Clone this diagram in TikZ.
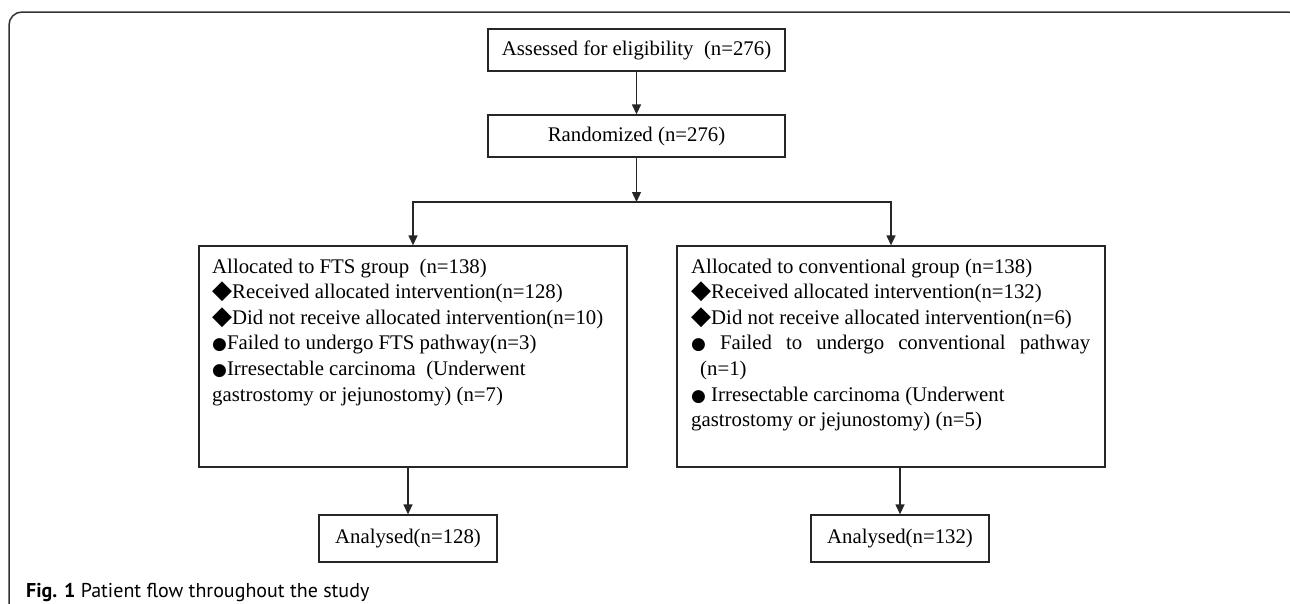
\documentclass[tikz,border=0pt]{standalone}
\usepackage{fontspec}
\setmainfont{Liberation Serif}
\newfontfamily\symf{DejaVu Sans}
\newfontfamily\capf{PT Sans}
\usetikzlibrary{arrows.meta}
\newcommand{\mydia}{{\symf\fontsize{26}{25.6}\selectfont ◆}}
\newcommand{\mybul}{{\symf\fontsize{17}{25.6}\selectfont ●}}
\begin{document}
\begin{tikzpicture}[x=1pt,y=-1pt,
  boxstyle/.style={draw=black!85, line width=1.3pt, inner sep=0pt},
  conn/.style={draw=black!85, line width=1.3pt, -{Triangle[width=9pt,length=10pt]}},
  txt/.style={inner sep=0pt, font=\fontsize{20.8}{25.6}\selectfont}]
\useasboundingbox (0,0) rectangle (1290,603);
\fill[white] (0,0) rectangle (1290,603);
\begin{scope}
\clip (0,0) rectangle (1290,603);
\draw[black!80, line width=1.5pt, rounded corners=13pt] (9,620) -- (9,12) -- (1301,12) -- (1301,620);
\end{scope}

\node[boxstyle, txt, minimum width=297pt, minimum height=42pt] (assess) at (636.5,50) {Assessed for eligibility\ \ (n=276)};
\node[boxstyle, txt, minimum width=297pt, minimum height=42pt] (rand) at (636.5,136) {Randomized (n=276)};
\coordinate (j) at (636.5,202);

\node[boxstyle, minimum width=428pt, minimum height=221pt] (fts) at (413,356.5) {};
\node[boxstyle, minimum width=428pt, minimum height=221pt] (conv) at (891,356.5) {};

\node[txt, anchor=base west] (ftstxt) at (212,273) {\parbox[t]{450pt}{\raggedright
Allocated to FTS group\ \ (n=138)\\
\mydia Received allocated intervention(n=128)\\
\mydia Did not receive allocated intervention(n=10)\\
\mybul Failed to undergo FTS pathway(n=3)\\
\mybul Irresectable carcinoma\ \ (Underwent\\
gastrostomy or jejunostomy) (n=7)}};

\node[txt, anchor=base west] (convtxt) at (691,273) {\parbox[t]{450pt}{\raggedright
Allocated to conventional group (n=138)\\
\mydia Received allocated intervention(n=132)\\
\mydia Did not receive allocated intervention(n=6)\\
\makebox[399pt][s]{\mybul\ Failed to undergo conventional pathway}\\
\hspace*{9pt}(n=1)\\
\mybul\ Irresectable carcinoma (Underwent\\
gastrostomy or jejunostomy) (n=5)}};

\node[boxstyle, txt, minimum width=178pt, minimum height=47pt] (an1) at (408,538.5) {Analysed(n=128)};
\node[boxstyle, txt, minimum width=178pt, minimum height=47pt] (an2) at (900,538.5) {Analysed(n=132)};

\draw[conn] (assess.south) -- (rand.north);
\draw[conn] (rand.south) -- (j);
\draw[conn] (j) -| (fts.north);
\draw[conn] (j) -| (conv.north);
\draw[conn] (fts.south -| an1.north) -- (an1.north);
\draw[conn] (conv.south -| an2.north) -- (an2.north);

\node[inner sep=0pt, anchor=base west] (cap) at (26,597) {\capf\fontsize{20}{20}\selectfont\textbf{Fig. 1} Patient flow throughout the study};
\end{tikzpicture}
\end{document}
